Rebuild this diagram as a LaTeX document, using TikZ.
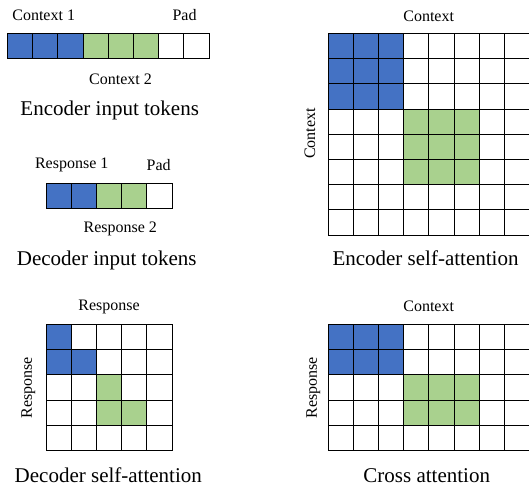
\documentclass[tikz,border=0pt]{standalone}
\usepackage{fontspec}
\setmainfont{Liberation Serif}
\definecolor{BlueTok}{HTML}{4472C4}
\definecolor{GreenTok}{HTML}{A9D18E}
\usetikzlibrary{math}
\tikzset{
    cell/.style={draw=black, line width=1pt},
    small label/.style={font=\fontsize{16}{18}\selectfont, inner sep=0pt},
    big label/.style={font=\fontsize{21}{24}\selectfont, inner sep=0pt},
}

\begin{document}
\begin{tikzpicture}[x=1pt, y=-1pt]
    \useasboundingbox (0,0) rectangle (529,486);
    \tikzmath{%
        \cw=25.2;
        \xL=7.5;
        \yE=33.5;
        \xD=46;
        \yD=183.5;
        \xG=328;
        \yT=33.5;
        \yB=324.5;
    };

    % encoder input tokens
    \fill [BlueTok] (\xL, \yE) rectangle ++(3*\cw, \cw);
    \fill [GreenTok] (\xL+3*\cw, \yE) rectangle ++(3*\cw, \cw);
    \foreach \i in {0, ..., 7} {%
            \draw [cell] ({\xL+\i*\cw}, \yE) rectangle ++(\cw, \cw);
        }
    \node [small label] (ctxone) at (43.7, 15) {Context 1};
    \node [small label] (padenc) at (184.5, 15) {Pad};
    \node [small label] (ctxtwo) at (120.5, 79) {Context 2};
    \node [big label] (enctok) at (109.7, 110) {Encoder input tokens};

    % decoder input tokens
    \fill [BlueTok] (\xD, \yD) rectangle ++(2*\cw, \cw);
    \fill [GreenTok] (\xD+2*\cw, \yD) rectangle ++(2*\cw, \cw);
    \foreach \i in {0, ..., 4} {%
            \draw [cell] ({\xD+\i*\cw}, \yD) rectangle ++(\cw, \cw);
        }
    \node [small label] (resone) at (71.7, 165) {Response 1};
    \node [small label] (paddec) at (158.7, 165) {Pad};
    \node [small label] (restwo) at (120.3, 229.3) {Response 2};
    \node [big label] (dectok) at (106.7, 260) {Decoder input tokens};

    % encoder self-attention
    \fill [BlueTok] (\xG, \yT) rectangle ++(3*\cw, 3*\cw);
    \fill [GreenTok] (\xG+3*\cw, \yT+3*\cw) rectangle ++(3*\cw, 3*\cw);
    \foreach \i in {0, ..., 7} {%
            \foreach \j in {0, ..., 7} {%
                    \draw [cell] ({\xG+\i*\cw}, {\yT+\j*\cw}) rectangle ++(\cw, \cw);
                }
        }
    \node [small label] (enctop) at (428.7, 16) {Context};
    \node [small label, rotate=90] (encleft) at (310, 133.5) {Context};
    \node [big label] (encself) at (425.5, 258) {Encoder self-attention};

    % decoder self-attention
    \fill [BlueTok] (\xD, \yB) rectangle ++(\cw, 2*\cw);
    \fill [BlueTok] (\xD+\cw, \yB+\cw) rectangle ++(\cw, \cw);
    \fill [GreenTok] (\xD+2*\cw, \yB+2*\cw) rectangle ++(\cw, 2*\cw);
    \fill [GreenTok] (\xD+3*\cw, \yB+3*\cw) rectangle ++(\cw, \cw);
    \foreach \i in {0, ..., 4} {%
            \foreach \j in {0, ..., 4} {%
                    \draw [cell] ({\xD+\i*\cw}, {\yB+\j*\cw}) rectangle ++(\cw, \cw);
                }
        }
    \node [small label] (dectop) at (109, 307) {Response};
    \node [small label, rotate=90] (decleft) at (28.3, 388) {Response};
    \node [big label, anchor=base] (decself) at (108.3, 482.5) {Decoder self-attention};

    % cross attention
    \fill [BlueTok] (\xG, \yB) rectangle ++(3*\cw, 2*\cw);
    \fill [GreenTok] (\xG+3*\cw, \yB+2*\cw) rectangle ++(3*\cw, 2*\cw);
    \foreach \i in {0, ..., 7} {%
            \foreach \j in {0, ..., 4} {%
                    \draw [cell] ({\xG+\i*\cw}, {\yB+\j*\cw}) rectangle ++(\cw, \cw);
                }
        }
    \node [small label] (crosstop) at (428.7, 306.7) {Context};
    \node [small label, rotate=90] (crossleft) at (313.3, 388) {Response};
    \node [big label, anchor=base] (cross) at (426.7, 482.5) {Cross attention};

\end{tikzpicture}
\end{document}
